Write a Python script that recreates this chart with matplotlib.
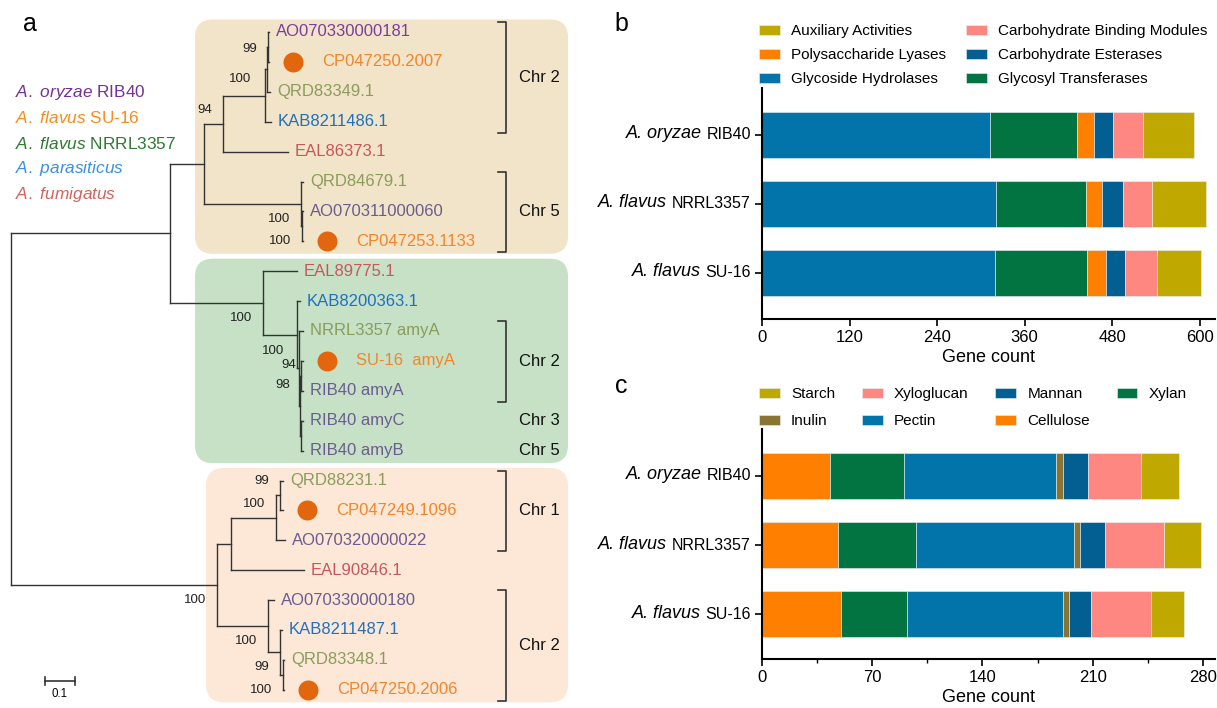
import numpy as np
import matplotlib.pyplot as plt
from matplotlib.patches import FancyBboxPatch

plt.rcParams['font.family'] = ['Liberation Sans', 'DejaVu Sans']
plt.rcParams['mathtext.fontset'] = 'custom'
plt.rcParams['mathtext.rm'] = 'Liberation Sans'
plt.rcParams['mathtext.it'] = 'Liberation Sans:italic'

W, H = 1217, 708

# ---------------- data ----------------
genomes = ['RIB40', 'NRRL3357', 'SU-16']
genome_species = ['A. oryzae', 'A. flavus', 'A. flavus']

# panel b: CAZyme classes (gene counts)
cazy_names = ['Glycoside Hydrolases', 'Glycosyl Transferases', 'Polysaccharide Lyases',
              'Carbohydrate Esterases', 'Carbohydrate Binding Modules', 'Auxiliary Activities']
gh = [312, 321, 319]
gt = [120, 123, 126]
pl = [23, 22, 27]
ce = [26, 29, 26]
cbm = [41, 40, 43]
aa = [70, 74, 61]

# panel c: substrates (gene counts)
substrate_names = ['Cellulose', 'Xylan', 'Pectin', 'Inulin', 'Mannan', 'Xyloglucan', 'Starch']
cellulose = [43, 48, 50]
xylan = [47, 50, 42]
pectin = [97, 100, 99]
inulin = [4, 4, 4]
mannan = [16, 16, 14]
xyloglucan = [34, 37, 38]
starch = [24, 24, 21]

# panel a: tree (branch lengths in substitutions/site)
def leaf(name, bl, grp, dot=False):
    return {'name': name, 'bl': bl, 'grp': grp, 'dot': dot}

def node(kids, bl, support='', pos='below'):
    return {'kids': kids, 'bl': bl, 'support': support, 'pos': pos}

tree = node([
    node([
        node([
            node([
                node([
                    node([
                        node([leaf('AO070330000181', 0.0033, 'ory'),
                              leaf('CP047250.2007', 0.0033, 'su16', True)], 0.0033, '99', (-11, 2)),
                        leaf('QRD83349.1', 0.01, 'nrrl')], 0.0067, '100', (-16, 10)),
                    leaf('KAB8211486.1', 0.02, 'para')], 0.14),
                leaf('EAL86373.1', 0.217, 'fumi')], 0.063, '94', 'above'),
            node([
                leaf('QRD84679.1', 0.0067, 'nrrl'),
                node([leaf('AO070311000060', 0.0033, 'ory2'),
                      leaf('CP047253.1133', 0.0033, 'su16', True)], 0.0033, '100')], 0.323, '100')
        ], 0.113),
        node([
            leaf('EAL89775.1', 0.113, 'fumi'),
            node([
                leaf('KAB8200363.1', 0.01, 'para'),
                node([
                    leaf('NRRL3357 amyA', 0.0133, 'nrrl'),
                    node([
                        node([leaf('SU-16  amyA', 0.0067, 'su16', True),
                              leaf('RIB40 amyA', 0.0067, 'ory2')], 0.0033, '94', (-5, -11)),
                        node([leaf('RIB40 amyC', 0.0067, 'ory2'),
                              leaf('RIB40 amyB', 0.0067, 'ory2')], 0.0033)], 0.0033, '98', (-10, -21))
                ], 0.0067, '100', (-15, -17))], 0.113)
        ], 0.31, '100')
    ], 0.53),
    node([
        node([
            node([
                node([leaf('QRD88231.1', 0.01, 'nrrl'),
                      leaf('CP047249.1096', 0.01, 'su16', True)], 0.0133, '99', 'above'),
                leaf('AO070320000022', 0.03, 'ory2')], 0.15, '100', 'above'),
            leaf('EAL90846.1', 0.243, 'fumi')], 0.048),
        node([
            leaf('AO070330000180', 0.02, 'ory2'),
            node([
                leaf('KAB8211487.1', 0.0067, 'para'),
                node([leaf('QRD83348.1', 0.0033, 'nrrl'),
                      leaf('CP047250.2006', 0.0033, 'su16', True)], 0.01, '100')], 0.04, '99')
        ], 0.171, '100')
    ], 0.686, '100')
], 0)

legend_species = ['A. oryzae', 'A. flavus', 'A. flavus', 'A. parasiticus', 'A. fumigatus']
legend_strains = ['RIB40', 'SU-16', 'NRRL3357', '', '']
legend_colors = ['#74309c', '#fa8a1c', '#2f7a33', '#3d8fe0', '#d6625c']

grp_colors = {'ory': '#7a3d9e', 'ory2': '#6b5c8f', 'su16': '#f2852a', 'nrrl': '#8a9c5a',
              'para': '#1f70bf', 'fumi': '#c9565c'}

clade_boxes = [('AO070330000181', 'CP047253.1133', 195, '#f2e4c8'),
               ('EAL89775.1', 'RIB40 amyB', 195, '#c6e1c6'),
               ('QRD88231.1', 'CP047250.2006', 206, '#fde8d8')]

chromosomes = [('Chr 2', 'AO070330000181', 'KAB8211486.1', True),
               ('Chr 5', 'QRD84679.1', 'CP047253.1133', True),
               ('Chr 2', 'NRRL3357 amyA', 'RIB40 amyA', True),
               ('Chr 3', 'RIB40 amyC', 'RIB40 amyC', False),
               ('Chr 5', 'RIB40 amyB', 'RIB40 amyB', False),
               ('Chr 1', 'QRD88231.1', 'AO070320000022', True),
               ('Chr 2', 'AO070330000180', 'CP047250.2006', True)]

# ---------------- figure ----------------
fig = plt.figure(figsize=(W / 100, H / 100), dpi=100)

# ---- panel a : tree, axes in pixel units ----
ax = fig.add_axes([0, 0, 600 / W, 1])
ax.set_xlim(0, 600)
ax.set_ylim(H, 0)
ax.axis('off')

root_x, px_per_unit = 11, 300
row0, row_step = 32, 29.9
leaf_y = {}
counter = [0]

def layout(n, x):
    n['x'] = x + n['bl'] * px_per_unit
    if 'kids' in n:
        for k in n['kids']:
            layout(k, n['x'])
        n['y'] = (n['kids'][0]['y'] + n['kids'][-1]['y']) / 2
    else:
        n['y'] = row0 + counter[0] * row_step
        leaf_y[n['name']] = n['y']
        counter[0] += 1

layout(tree, root_x)

for first, last, x0, col in clade_boxes:
    y0, y1 = leaf_y[first] - 12.5, leaf_y[last] + 12.5
    ax.add_patch(FancyBboxPatch((x0, y0), 568 - x0, y1 - y0,
                                boxstyle='round,pad=0,rounding_size=18',
                                fc=col, ec='none', zorder=0))

def draw(n):
    if 'kids' not in n:
        c = grp_colors[n['grp']]
        if n['dot']:
            ax.plot(n['x'] + 24, n['y'], 'o', ms=14.4, color='#e2660e', mec='none')
            ax.text(n['x'] + 53, n['y'], n['name'], color=c, fontsize=12, va='center')
        else:
            ax.text(n['x'] + 7, n['y'], n['name'], color=c, fontsize=12, va='center')
        return
    ys = [k['y'] for k in n['kids']]
    ax.plot([n['x'], n['x']], [min(ys), max(ys)], color='#333333', lw=1.0)
    for k in n['kids']:
        ax.plot([n['x'], k['x']], [k['y'], k['y']], color='#333333', lw=1.0)
        draw(k)
    if n['support']:
        if n['pos'] == 'above':
            dx, dy = -11, -14
        elif n['pos'] == 'below':
            dx, dy = -11, 15
        else:
            dx, dy = n['pos']
        ax.text(n['x'] + dx, n['y'] + dy, n['support'], fontsize=9.5, ha='right',
                va='center', color='#222222')

draw(tree)

for lab, first, last, bracket in chromosomes:
    y0, y1 = leaf_y[first], leaf_y[last]
    if bracket:
        t, b = y0 - 10, y1 + 11
        ax.plot([498, 506, 506, 498], [t, t, b, b], color='#333333', lw=1.2)
        ax.text(519, (t + b) / 2, lab, fontsize=12, va='center', color='#111111')
    else:
        ax.text(519, y0, lab, fontsize=12, va='center', color='#111111')

for i, (sp, st, c) in enumerate(zip(legend_species, legend_strains, legend_colors)):
    s = r'$\mathit{' + sp.replace(' ', r'\ ') + '}$' + (' ' + st if st else '')
    ax.text(15, 93 + 25.3 * i, s, color=c, fontsize=12.4, va='center')

# scale bar 0.1
ax.plot([45, 45 + 0.1 * px_per_unit], [681, 681], color='#333333', lw=1.2)
for xe in (45, 45 + 0.1 * px_per_unit):
    ax.plot([xe, xe], [677, 685], color='#333333', lw=1.2)
ax.text(60, 694, '0.1', fontsize=8.3, ha='center', va='center')

# ---- panels b and c ----
def style_axis(a):
    for s in ('top', 'right'):
        a.spines[s].set_visible(False)
    for s in ('left', 'bottom'):
        a.spines[s].set_linewidth(1.5)
    a.tick_params(axis='both', length=5, width=1.2, labelsize=12, pad=3)
    a.set_xlabel('Gene count', fontsize=13, labelpad=3)
    a.set_yticks(range(len(genomes)))
    a.set_yticklabels([])
    for i, (sp, st) in enumerate(zip(genome_species, genomes)):
        t = a.annotate(st, xy=(0, i), xycoords=('axes fraction', 'data'),
                       xytext=(-8, 0), textcoords='offset points',
                       ha='right', va='center', fontsize=11.5)
        a.annotate(sp, xy=(0, 0), xycoords=t, xytext=(-3.5, 0),
                   textcoords='offset points', ha='right', va='bottom',
                   fontsize=13, style='italic')

def stacked(a, series, names, colors):
    left = np.zeros(len(genomes))
    bars = {}
    for vals, nm, c in zip(series, names, colors):
        bars[nm] = a.barh(range(len(genomes)), vals, left=left, height=0.68, color=c,
                          edgecolor='#e6f2f7', linewidth=0.4, label=nm)
        left += np.array(vals)
    return bars

axb = fig.add_axes([762 / W, 1 - 319 / H, 453 / W, 231 / H])
cazy_colors = ['#0274a9', '#027442', '#ff7f00', '#035f91', '#ff8782', '#bfa900']
bars_b = stacked(axb, [gh, gt, pl, ce, cbm, aa], cazy_names, cazy_colors)
axb.set_xlim(0, 621)
axb.set_ylim(2.667, -0.681)
axb.set_xticks([0, 120, 240, 360, 480, 600])
style_axis(axb)
order_b = ['Auxiliary Activities', 'Polysaccharide Lyases', 'Glycoside Hydrolases',
           'Carbohydrate Binding Modules', 'Carbohydrate Esterases', 'Glycosyl Transferases']
axb.legend([bars_b[k] for k in order_b], order_b, ncol=2, frameon=False, fontsize=11,
           loc='upper left', bbox_to_anchor=(759 / W, 1 - 24 / H),
           bbox_transform=fig.transFigure, borderpad=0, borderaxespad=0,
           handlelength=1.35, handleheight=0.65, handletextpad=0.75,
           columnspacing=1.3, labelspacing=0.66)

axc = fig.add_axes([762 / W, 1 - 659 / H, 453 / W, 230 / H])
substrate_colors = ['#ff7f00', '#027442', '#0274a9', '#8a7431', '#035f91', '#ff8782', '#bfa900']
bars_c = stacked(axc, [cellulose, xylan, pectin, inulin, mannan, xyloglucan, starch],
                 substrate_names, substrate_colors)
axc.set_xlim(0, 287.7)
axc.set_ylim(2.652, -0.681)
axc.set_xticks([0, 70, 140, 210, 280])
axc.set_xticks([35, 105, 175, 245], minor=True)
axc.tick_params(axis='x', which='minor', length=3, width=1.0)
style_axis(axc)
order_c = ['Starch', 'Inulin', 'Xyloglucan', 'Pectin', 'Mannan', 'Cellulose', 'Xylan']
axc.legend([bars_c[k] for k in order_c], order_c, ncol=4, frameon=False, fontsize=11,
           loc='upper left', bbox_to_anchor=(759 / W, 1 - 387 / H),
           bbox_transform=fig.transFigure, borderpad=0, borderaxespad=0,
           handlelength=1.35, handleheight=0.65, handletextpad=0.75,
           columnspacing=1.75, labelspacing=0.88)

fig.text(30 / W, 1 - 24 / H, 'a', fontsize=18, ha='center', va='center')
fig.text(621 / W, 1 - 24 / H, 'b', fontsize=18, ha='center', va='center')
fig.text(621 / W, 1 - 386 / H, 'c', fontsize=18, ha='center', va='center')

fig.savefig('out.png', dpi=100)
